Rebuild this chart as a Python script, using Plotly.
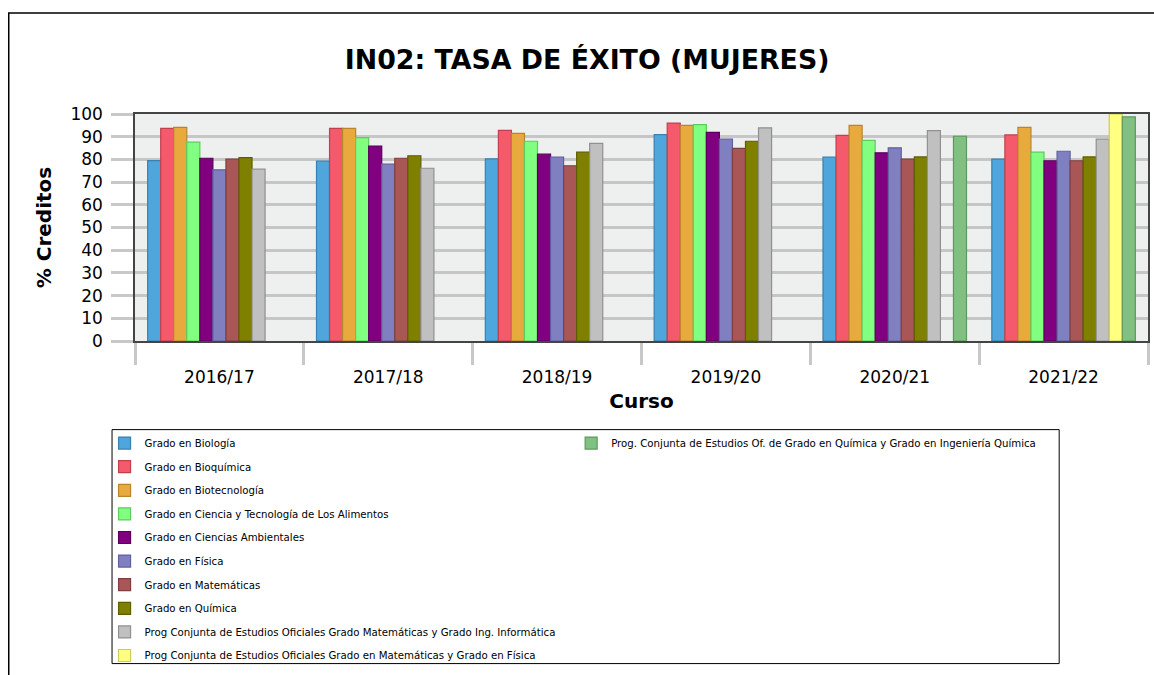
import plotly.graph_objects as go

# ---- data ----
cursos = ["2016/17", "2017/18", "2018/19", "2019/20", "2020/21", "2021/22"]

biologia = [79.5, 79.2, 80.2, 90.9, 81.0, 80.1]
bioquimica = [93.7, 93.7, 92.8, 96.0, 90.6, 90.8]
biotecnologia = [94.1, 93.7, 91.5, 95.0, 95.0, 94.1]
ciencia_alimentos = [87.6, 89.6, 88.0, 95.3, 88.4, 83.2]
ciencias_ambientales = [80.5, 85.9, 82.3, 91.9, 82.9, 79.4]
fisica = [75.4, 77.9, 81.0, 88.9, 85.1, 83.6]
matematicas = [80.1, 80.5, 77.2, 84.9, 80.1, 79.4]
quimica = [80.8, 81.6, 83.2, 88.0, 81.1, 81.1]
mat_informatica = [75.7, 76.1, 87.1, 93.9, 92.7, 88.9]
mat_fisica = [None, None, None, None, None, 100.0]
quimica_ing = [None, None, None, None, 90.2, 98.7]

series_names = [
    "Grado en Biología",
    "Grado en Bioquímica",
    "Grado en Biotecnología",
    "Grado en Ciencia y Tecnología de Los Alimentos",
    "Grado en Ciencias Ambientales",
    "Grado en Física",
    "Grado en Matemáticas",
    "Grado en Química",
    "Prog Conjunta de Estudios Oficiales Grado Matemáticas y Grado Ing. Informática",
    "Prog Conjunta de Estudios Oficiales Grado en Matemáticas y Grado en Física",
    "Prog. Conjunta de Estudios Of. de Grado en Química y Grado en Ingeniería Química",
]
series_values = [biologia, bioquimica, biotecnologia, ciencia_alimentos,
                 ciencias_ambientales, fisica, matematicas, quimica,
                 mat_informatica, mat_fisica, quimica_ing]

# ---- styles ----
fill_colors = ["#4fa6dc", "#f45a6b", "#e8aa3c", "#80ff80", "#800080", "#8080c0",
               "#a85656", "#808000", "#c0c0c0", "#ffff80", "#80c080"]
line_colors = ["#3a80b0", "#c0404e", "#b8852c", "#5ccc5c", "#5a005a", "#6060a0",
               "#803e3e", "#5e5e00", "#909090", "#cccc5a", "#5e985e"]

W, H = 1154, 675
L, T = 135, 114
R = W - 1150
B = H - 342
PW, PH = W - L - R, H - T - B


def px_x(px):
    return (px - L) / PW


def px_y(py):
    return (H - B - py) / PH


fig = go.Figure()
for i, (name, vals) in enumerate(zip(series_names, series_values)):
    fig.add_trace(go.Bar(
        x=cursos, y=vals, name=name,
        marker=dict(color=fill_colors[i], line=dict(color=line_colors[i], width=1.2)),
        legend="legend2" if i == 10 else "legend",
        legendgroup=f"g{i}",
    ))

fig.update_layout(
    width=W, height=H,
    margin=dict(l=L, r=R, t=T, b=B),
    paper_bgcolor="white",
    plot_bgcolor="#eef0ef",
    barmode="group",
    bargap=0.15,
    bargroupgap=0,
    font=dict(family="DejaVu Sans", color="black"),
    title=dict(text="<b>IN02: TASA DE ÉXITO (MUJERES)</b>",
               x=px_x(588), xref="paper", xanchor="center",
               y=1 - 60 / H, yanchor="middle",
               font=dict(size=26.8, family="DejaVu Sans", color="black")),
    xaxis=dict(
        title=dict(text="<b>Curso</b>", font=dict(size=20), standoff=8),
        tickfont=dict(size=17),
        tickson="boundaries",
        ticks="outside", ticklen=22, tickwidth=3, tickcolor="#c8c8c8",
        ticklabelstandoff=20,
        showgrid=False,
        showline=True, linecolor="#444444", linewidth=1.5, mirror=True,
    ),
    yaxis=dict(
        title=dict(text="<b>% Creditos</b>", font=dict(size=20), standoff=13),
        range=[0, 100],
        tickmode="array", tickvals=list(range(0, 101, 10)),
        tickfont=dict(size=17),
        ticks="outside", ticklen=22, tickwidth=3, tickcolor="#c8c8c8",
        ticklabelstandoff=5,
        showgrid=True, gridcolor="#c6c6c6", gridwidth=2.5,
        showline=True, linecolor="#444444", linewidth=1.5, mirror=True,
        zeroline=False,
    ),
    legend=dict(
        x=px_x(104.5), y=px_y(430), xanchor="left", yanchor="top",
        orientation="v", traceorder="grouped", tracegroupgap=4.6,
        bgcolor="rgba(0,0,0,0)", font=dict(size=10.2, family="DejaVu Sans"),
    ),
    legend2=dict(
        x=px_x(572), y=px_y(430), xanchor="left", yanchor="top",
        orientation="v", bgcolor="rgba(0,0,0,0)",
        font=dict(size=10.2, family="DejaVu Sans"),
    ),
    shapes=[
        dict(type="rect", xref="paper", yref="paper",
             x0=px_x(112), x1=px_x(1061), y0=px_y(666), y1=px_y(431),
             line=dict(color="black", width=1), fillcolor="rgba(0,0,0,0)"),
        dict(type="rect", xref="paper", yref="paper",
             x0=px_x(8.5), x1=px_x(1175), y0=px_y(700), y1=px_y(12.5),
             line=dict(color="black", width=1.5), fillcolor="rgba(0,0,0,0)"),
    ],
)

fig.write_html("out.html",
               config={"displayModeBar": False},
               post_script="document.body.style.margin='0';"
                           "document.body.style.overflow='hidden';")
